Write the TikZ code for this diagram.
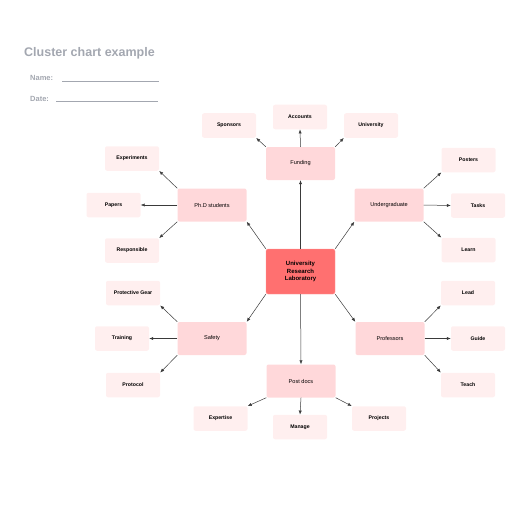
\documentclass[tikz,border=0pt]{standalone}
\usepackage{fontspec}
\setmainfont{Liberation Sans}
\usetikzlibrary{arrows.meta}

\definecolor{hubred}{HTML}{FF7070}
\definecolor{midpink}{HTML}{FFD8DA}
\definecolor{leafpink}{HTML}{FFEFEF}
\definecolor{titlegray}{HTML}{A3A7B0}
\definecolor{linegray}{HTML}{3A3A3A}

\tikzset{
  hub/.style={fill=hubred, draw=hubred!70!white, rounded corners=2pt, minimum width=69pt, minimum height=45pt, align=center, font=\fontsize{6}{7.5}\selectfont\bfseries, inner sep=1pt},
  mid/.style={fill=midpink, rounded corners=2pt, minimum width=69pt, minimum height=33pt, font=\fontsize{5.6}{6.5}\selectfont, inner sep=1pt},
  leaf/.style={fill=leafpink, rounded corners=2pt, minimum width=54pt, minimum height=24.5pt, font=\fontsize{5.2}{6.5}\selectfont\bfseries, inner sep=1pt},
  arr/.style={-{Latex[length=4pt,width=3.2pt]}, linegray, line width=0.5pt},
  head/.style={anchor=west, text=titlegray, inner sep=0pt}
}

\begin{document}
\begin{tikzpicture}[x=1pt,y=-1pt]
  \useasboundingbox (0,0) rectangle (516,516);

  % heading
  \node[head, font=\fontsize{12.5}{14}\selectfont\bfseries] (title) at (24,53.5) {Cluster chart example};
  \node[head, font=\fontsize{7.5}{9}\selectfont\bfseries] (name) at (30,78) {Name:};
  \node[head, font=\fontsize{7.5}{9}\selectfont\bfseries] (date) at (30,99) {Date:};
  \coordinate (nameA) at (62,81.5);
  \coordinate (nameB) at (158.5,81.5);
  \coordinate (dateA) at (56,101.5);
  \coordinate (dateB) at (157.5,101.5);
  \draw[titlegray, line width=0.5pt] (nameA) -- (nameB);
  \draw[titlegray, line width=0.5pt] (dateA) -- (dateB);

  % hub
  \node[hub] (lab) at (300.5,271.5) {University\\Research\\Laboratory};

  % first ring
  \node[mid] (fund) at (300.5,163.5) {Funding};
  \node[mid] (phd)  at (212,205)     {Ph.D students};
  \node[mid] (ug)   at (389,205)     {Undergraduate};
  \node[mid] (safe) at (212,338.5)   {Safety};
  \node[mid] (prof) at (390,338.5)   {Professors};
  \node[mid] (post) at (301,381)     {Post docs};

  % leaves
  \node[leaf] (acc)  at (300,117)   {Accounts};
  \node[leaf] (uni)  at (371,125.5) {University};
  \node[leaf] (spo)  at (229,125.5) {Sponsors};

  \node[leaf] (exp)  at (132,158.5) {Experiments};
  \node[leaf] (pap)  at (113.5,205) {Papers};
  \node[leaf] (resp) at (132,250.5) {Responsible};

  \node[leaf] (pst)  at (468.5,160) {Posters};
  \node[leaf] (task) at (478,205.5) {Tasks};
  \node[leaf] (lrn)  at (468.5,250) {Learn};

  \node[leaf] (gear) at (133,293)   {Protective Gear};
  \node[leaf] (trn)  at (122,338.5) {Training};
  \node[leaf] (prot) at (133,385)   {Protocol};

  \node[leaf] (lead) at (468,293)   {Lead};
  \node[leaf] (gui)  at (478,338.5) {Guide};
  \node[leaf] (tch)  at (468,385)   {Teach};

  \node[leaf] (expt) at (220.5,418.5) {Expertise};
  \node[leaf] (man)  at (300,427)   {Manage};
  \node[leaf] (proj) at (379,418.5) {Projects};

  % Arrows
  \draw[arr] (lab.north) -- (fund.south);
  \draw[arr] (lab.north west) -- (phd.south east);
  \draw[arr] (lab.north east) -- (ug.south west);
  \draw[arr] (lab.south west) -- (safe.north east);
  \draw[arr] (lab.south east) -- (prof.north west);
  \draw[arr] (lab.south) -- (post.north);

  \draw[arr] (fund.north) -- (acc.south);
  \draw[arr] (fund.north west) -- (spo.south east);
  \draw[arr] (fund.north east) -- (uni.south west);

  \draw[arr] (phd.north west) -- (exp.south east);
  \draw[arr] (phd.west) -- (pap.east);
  \draw[arr] (phd.south west) -- (resp.north east);

  \draw[arr] (ug.north east) -- (pst.south west);
  \draw[arr] (ug.east) -- (task.west);
  \draw[arr] (ug.south east) -- (lrn.north west);

  \draw[arr] (safe.north west) -- (gear.south east);
  \draw[arr] (safe.west) -- (trn.east);
  \draw[arr] (safe.south west) -- (prot.north east);

  \draw[arr] (prof.north east) -- (lead.south west);
  \draw[arr] (prof.east) -- (gui.west);
  \draw[arr] (prof.south east) -- (tch.north west);

  \draw[arr] (post.south west) -- (expt.north east);
  \draw[arr] (post.south) -- (man.north);
  \draw[arr] (post.south east) -- (proj.north west);

\end{tikzpicture}
\end{document}
